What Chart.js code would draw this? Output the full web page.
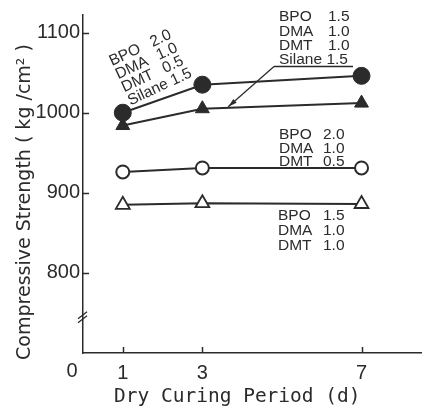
<!DOCTYPE html>
<html>
<head>
<meta charset="utf-8">
<script src="https://cdn.jsdelivr.net/npm/chart.js@4"></script>
<style>
  body { margin: 0; background: #fff; }
  canvas { display: block; }
</style>
</head>
<body>
<canvas id="myChart" width="431" height="411"></canvas>
<script>
// curing period (days) and compressive strength of each mix (kg/cm2)
var days = [1, 3, 7];
var silaneBpo20 = [1000, 1035, 1046];   // filled circles
var silaneBpo15 = [984, 1005, 1012];    // filled triangles
var bpo20 = [926, 931, 931];            // open circles
var bpo15 = [885, 887, 886];            // open triangles

var yTicks = [800, 900, 1000, 1100];
var xTicks = [1, 3, 7];

var ink = '#2b2b2b';

function pairs(vals) {
  return days.map(function (d, i) { return { x: d, y: vals[i] }; });
}

// extra drawing: inward ticks, axis break, titles and the mix labels
var decorations = {
  id: 'decorations',
  afterDraw: function (chart) {
    var ctx = chart.ctx;
    var xs = chart.scales.x;
    var ys = chart.scales.y;
    var left = chart.chartArea.left;
    var bottom = chart.chartArea.bottom;

    ctx.save();
    ctx.strokeStyle = ink;
    ctx.fillStyle = ink;
    ctx.lineWidth = 1.5;

    // tick marks pointing into the plot
    yTicks.forEach(function (v) {
      var y = Math.round(ys.getPixelForValue(v)) + 0.5;
      ctx.beginPath(); ctx.moveTo(left, y); ctx.lineTo(left + 6, y); ctx.stroke();
    });
    xTicks.forEach(function (v) {
      var x = Math.round(xs.getPixelForValue(v)) + 0.5;
      ctx.beginPath(); ctx.moveTo(x, bottom); ctx.lineTo(x, bottom - 6); ctx.stroke();
    });

    // axis break
    var by = ys.getPixelForValue(744);
    ctx.lineWidth = 1.3;
    [0, 4].forEach(function (o) {
      ctx.beginPath();
      ctx.moveTo(left - 5, by + 5 - o);
      ctx.lineTo(left + 4, by - 2 - o);
      ctx.stroke();
    });

    // origin label
    ctx.font = '20px "Liberation Sans"';
    ctx.textAlign = 'center';
    ctx.textBaseline = 'middle';
    ctx.fillText('0', xs.getPixelForValue(0) - 11, 371);

    // axis titles
    ctx.font = '19.5px "DejaVu Sans Mono"';
    ctx.textAlign = 'left';
    ctx.textBaseline = 'middle';
    ctx.fillText('Dry Curing Period (d)', 114, 397);

    ctx.save();
    ctx.translate(25, 202);
    ctx.rotate(-Math.PI / 2);
    ctx.font = '19px "DejaVu Sans"';
    ctx.textAlign = 'center';
    ctx.fillText('Compressive Strength ( kg /cm\u00b2 )', 0, 0);
    ctx.restore();

    // mix labels
    ctx.font = '15.5px "Liberation Sans"';
    ctx.textBaseline = 'alphabetic';
    ctx.textAlign = 'left';

    function block(x, vx, baselines, rows) {
      rows.forEach(function (r, i) {
        ctx.fillText(r[0], x, baselines[i]);
        if (r[1]) ctx.fillText(r[1], vx, baselines[i]);
      });
    }

    block(279, 328, [21, 36, 50, 64],
      [['BPO', '1.5'], ['DMA', '1.0'], ['DMT', '1.0'], ['Silane 1.5', '']]);
    block(279, 323, [139, 153, 166],
      [['BPO', '2.0'], ['DMA', '1.0'], ['DMT', '0.5']]);
    block(278, 323, [220, 235, 250],
      [['BPO', '1.5'], ['DMA', '1.0'], ['DMT', '1.0']]);

    // rotated label above the filled circles
    ctx.save();
    ctx.translate(112, 66);
    ctx.rotate(-25 * Math.PI / 180);
    var rot = [['BPO', '2.0'], ['DMA', '1.0'], ['DMT', '0.5']];
    rot.forEach(function (r, i) {
      ctx.fillText(r[0], 0, i * 14.5);
      ctx.fillText(r[1], 45, i * 14.5);
    });
    ctx.fillText('Silane 1.5', 0, 43.5);
    ctx.restore();

    // underline and leader arrow to the filled triangle line
    ctx.lineWidth = 1.3;
    ctx.beginPath(); ctx.moveTo(274, 66.5); ctx.lineTo(353, 66.5); ctx.stroke();

    var tx = 3.65;
    var ty = silaneBpo15[1] + (silaneBpo15[2] - silaneBpo15[1]) * (tx - days[1]) / (days[2] - days[1]);
    var px = xs.getPixelForValue(tx);
    var py = ys.getPixelForValue(ty) - 1;
    ctx.beginPath(); ctx.moveTo(274, 66.5); ctx.lineTo(px, py); ctx.stroke();

    var ang = Math.atan2(py - 66.5, px - 274);
    ctx.beginPath();
    ctx.moveTo(px, py);
    ctx.lineTo(px - 9 * Math.cos(ang) + 2.5 * Math.sin(ang), py - 9 * Math.sin(ang) - 2.5 * Math.cos(ang));
    ctx.lineTo(px - 9 * Math.cos(ang) - 2.5 * Math.sin(ang), py - 9 * Math.sin(ang) + 2.5 * Math.cos(ang));
    ctx.closePath();
    ctx.fill();

    ctx.restore();
  }
};

var ctx = document.getElementById('myChart').getContext('2d');
var myChart = new Chart(ctx, {
  type: 'line',
  data: {
    datasets: [
      {
        data: pairs(silaneBpo20),
        borderColor: ink, borderWidth: 2,
        pointStyle: 'circle', pointRadius: 8.5,
        pointBackgroundColor: ink, pointBorderColor: ink, pointBorderWidth: 1
      },
      {
        data: pairs(silaneBpo15),
        borderColor: ink, borderWidth: 2,
        pointStyle: 'triangle', pointRadius: 8,
        pointBackgroundColor: ink, pointBorderColor: ink, pointBorderWidth: 1
      },
      {
        data: pairs(bpo20),
        borderColor: ink, borderWidth: 2,
        pointStyle: 'circle', pointRadius: 6.5,
        pointBackgroundColor: '#fff', pointBorderColor: ink, pointBorderWidth: 2
      },
      {
        data: pairs(bpo15),
        borderColor: ink, borderWidth: 2,
        pointStyle: 'triangle', pointRadius: 8,
        pointBackgroundColor: '#fff', pointBorderColor: ink, pointBorderWidth: 1.8
      }
    ]
  },
  options: {
    responsive: false,
    animation: false,
    devicePixelRatio: 1,
    layout: { padding: { left: 0, top: 15, right: 9, bottom: 0 } },
    plugins: {
      legend: { display: false },
      tooltip: { enabled: false }
    },
    scales: {
      x: {
        type: 'linear', min: 0, max: 8.5,
        afterBuildTicks: function (s) { s.ticks = xTicks.map(function (v) { return { value: v }; }); },
        afterFit: function (s) { s.height = 58; },
        grid: { display: false, drawTicks: false },
        border: { display: true, color: ink, width: 1.5 },
        ticks: {
          color: ink, font: { family: 'Liberation Sans', size: 20 }, padding: 8, maxRotation: 0, autoSkip: false,
          callback: function (v) { return String(v); }
        }
      },
      y: {
        min: 700, max: 1122,
        afterBuildTicks: function (s) { s.ticks = yTicks.map(function (v) { return { value: v }; }); },
        afterFit: function (s) { s.width = 83; },
        grid: { display: false, drawTicks: false },
        border: { display: true, color: ink, width: 1.5 },
        ticks: {
          color: ink, font: { family: 'Liberation Sans', size: 20 }, padding: 3, autoSkip: false,
          callback: function (v) { return String(v); }
        }
      }
    }
  },
  plugins: [decorations]
});
</script>
</body>
</html>
